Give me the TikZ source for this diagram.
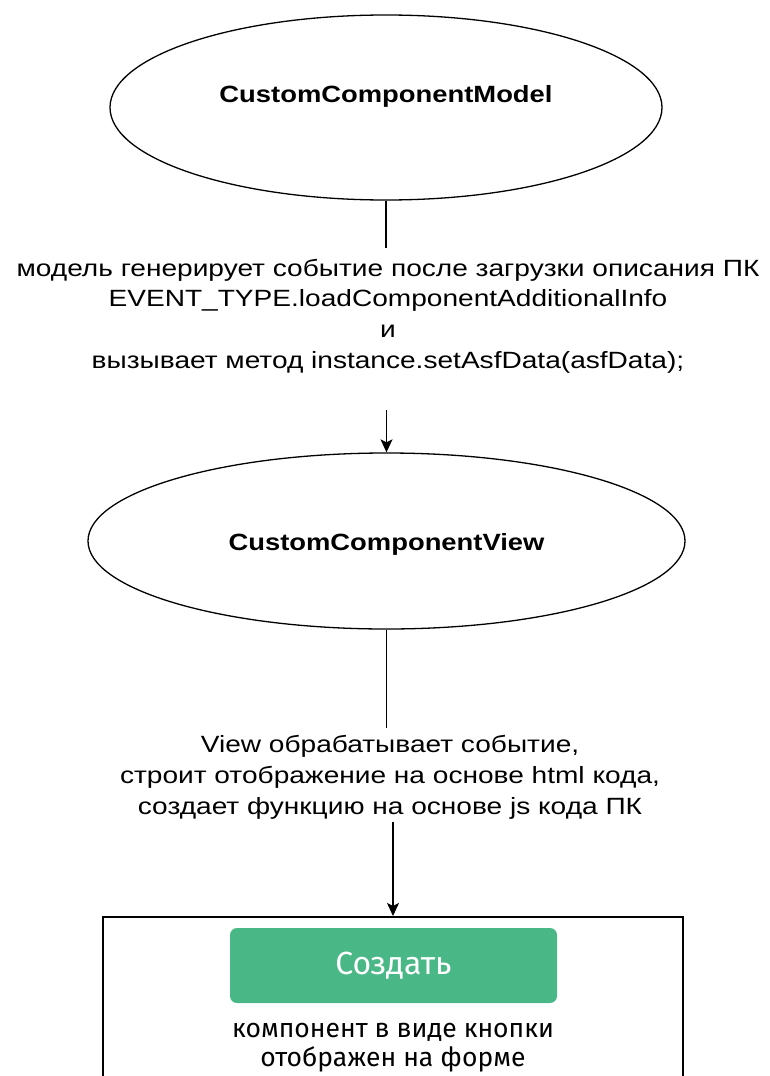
\documentclass[tikz,border=0pt]{standalone}
\usepackage{fontspec}
\setmainfont{Liberation Sans}[FakeStretch=1.165]
\newfontfamily\notefont{Liberation Sans}[FakeStretch=1.195]
\newfontfamily\btnfont{Fira Sans}
\usetikzlibrary{shapes.geometric,arrows.meta,positioning}
\definecolor{btngreen}{RGB}{74,183,134}

\begin{document}
\begin{tikzpicture}[x=1pt,y=-1pt,
  state/.style={ellipse, draw, line width=1.3pt, inner sep=0pt},
  title/.style={font=\fontsize{23.5}{28}\selectfont\bfseries},
  note/.style={align=center, inner sep=0pt, font=\notefont\fontsize{23.5}{30.7}\selectfont},
  link/.style={line width=1.4pt},
  arrow/.style={line width=1.4pt, -{Stealth[length=13pt,width=12pt,inset=3pt]}}]
  \clip (0,0) rectangle (769,1076);
  %--- Model
  \node[state, minimum width=552pt, minimum height=185pt] (model) at (386,107.5) {};
  \node[title] (modeltitle) at (386,96) {CustomComponentModel};
  \node[note] (modelnote) at (388,316) {модель генерирует событие после загрузки описания ПК\\
    EVENT\_TYPE.loadComponentAdditionalInfo\\и\\вызывает метод instance.setAsfData(asfData);};
  %--- View
  \node[state, minimum width=597pt, minimum height=176pt] (view) at (386.5,541) {};
  \node[title] (viewtitle) at (386.5,544) {CustomComponentView};
  \node[note] (viewnote) at (390,777.5) {View обрабатывает событие,\\
    строит отображение на основе html кода,\\создает функцию на основе js кода ПК};
  %--- Form
  \node[draw, line width=2pt, minimum width=580pt, minimum height=220pt] (form) at (393,1027) {};
  \node[fill=btngreen, rounded corners=7pt, minimum width=327pt, minimum height=75pt,
    text=white, font=\btnfont\fontsize{32}{38}\selectfont] (create) at (393.5,965.5) {Создать};
  \node[align=center, inner sep=0pt, font=\btnfont\fontsize{26.5}{29}\selectfont] (caption)
    at (393,1047.5) {компонент в виде кнопки\\отображен на форме};
  %--- Edges
  \draw[link] (model.south) -- ([yshift=11pt]model.south |- modelnote.north);
  \draw[arrow] ([yshift=-37pt]view.north |- modelnote.south) -- (view.north);
  \draw[link] (view.south) -- ([yshift=8pt]view.south |- viewnote.north);
  \draw[arrow] ([yshift=-3pt]form.north |- viewnote.south) -- (form.north);
\end{tikzpicture}
\end{document}
